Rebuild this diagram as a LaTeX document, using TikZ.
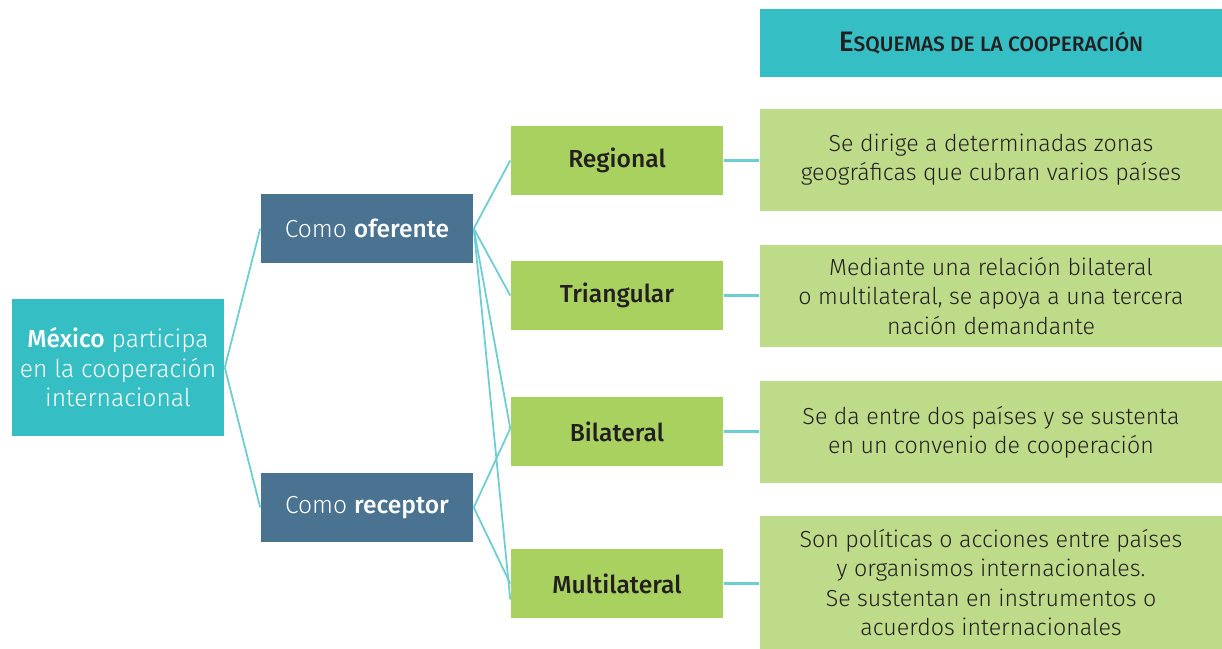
\documentclass[tikz,border=0pt]{standalone}
\usepackage{fontspec}
\setmainfont{Fira Sans Light}[BoldFont={Fira Sans Medium}]
\definecolor{tealc}{HTML}{35BEC3}
\definecolor{navy}{HTML}{4A7391}
\definecolor{green1}{HTML}{A9D160}
\definecolor{green2}{HTML}{BEDB8A}
\definecolor{ink}{HTML}{231F20}
\definecolor{wire}{HTML}{6CCDD3}
\tikzset{
  base/.style={inner sep=0pt, align=center, font=\fontsize{7}{8.4}\selectfont},
  mainbox/.style={base, fill=tealc, text=white, minimum width=2.12cm, minimum height=1.37cm},
  rolebox/.style={base, fill=navy, text=white, minimum width=2.12cm, minimum height=0.69cm},
  kindbox/.style={base, fill=green1, text=ink, minimum width=2.12cm, minimum height=0.69cm, font=\fontsize{7}{8.4}\selectfont\bfseries},
  descbox/.style={base, fill=green2, text=ink, minimum width=4.62cm, minimum height=1.02cm, font=\fontsize{6.6}{8.3}\selectfont},
  headbox/.style={base, fill=tealc, text=ink, minimum width=4.62cm, minimum height=0.68cm, font=\bfseries},
  wireline/.style={draw=wire, line width=0.5pt},
  hwire/.style={draw=wire, line width=0.7pt}
}
\begin{document}
\begin{tikzpicture}[x=0.01cm,y=-0.01cm]
\useasboundingbox[fill=white] (0,0) rectangle (1222,649);
\node[mainbox] (mex) at (118,367.5) {\textbf{México} participa\\en la cooperación\\internacional};
\node[rolebox] (of) at (367,228.5) {Como \textbf{oferente}};
\node[rolebox] (re) at (367,507.5) {Como \textbf{receptor}};
\node[kindbox] (reg) at (617,160.5) {Regional};
\node[kindbox] (tri) at (617,295.5) {Triangular};
\node[kindbox] (bil) at (617,431.5) {Bilateral};
\node[kindbox] (mul) at (617,583.5) {Multilateral};
\node[headbox] (head) at (991,43) {{\fontsize{8}{9}\selectfont E}{\fontsize{5.95}{9}\selectfont SQUEMAS DE LA COOPERACIÓN}};
\node[descbox] (d1) at (991,160) {Se dirige a determinadas zonas\\geográficas que cubran varios países};
\node[descbox] (d2) at (991,296) {Mediante una relación bilateral\\o multilateral, se apoya a una tercera\\nación demandante};
\node[descbox] (d3) at (991,432) {Se da entre dos países y se sustenta\\en un convenio de cooperación};
\node[descbox, minimum height=1.33cm] (d4) at (991,582.5) {Son políticas o acciones entre países\\y organismos internacionales.\\Se sustentan en instrumentos o\\acuerdos internacionales};
\draw[wireline] (mex.east) -- (of.west);
\draw[wireline] (mex.east) -- (re.west);
\draw[wireline] (of.east) -- (reg.west);
\draw[wireline] (of.east) -- (tri.west);
\draw[wireline] (of.east) -- ([yshift=0.03cm]bil.west);
\draw[wireline] (of.east) -- ([yshift=-0.16cm]mul.west);
\draw[wireline] (re.east) -- ([yshift=0.03cm]bil.west);
\draw[wireline] (re.east) -- (mul.west);
\draw[hwire] (reg.east) -- (reg.east -| d1.west);
\draw[hwire] (tri.east) -- (tri.east -| d2.west);
\draw[hwire] (bil.east) -- (bil.east -| d3.west);
\draw[hwire] (mul.east) -- (mul.east -| d4.west);
\end{tikzpicture}
\end{document}
